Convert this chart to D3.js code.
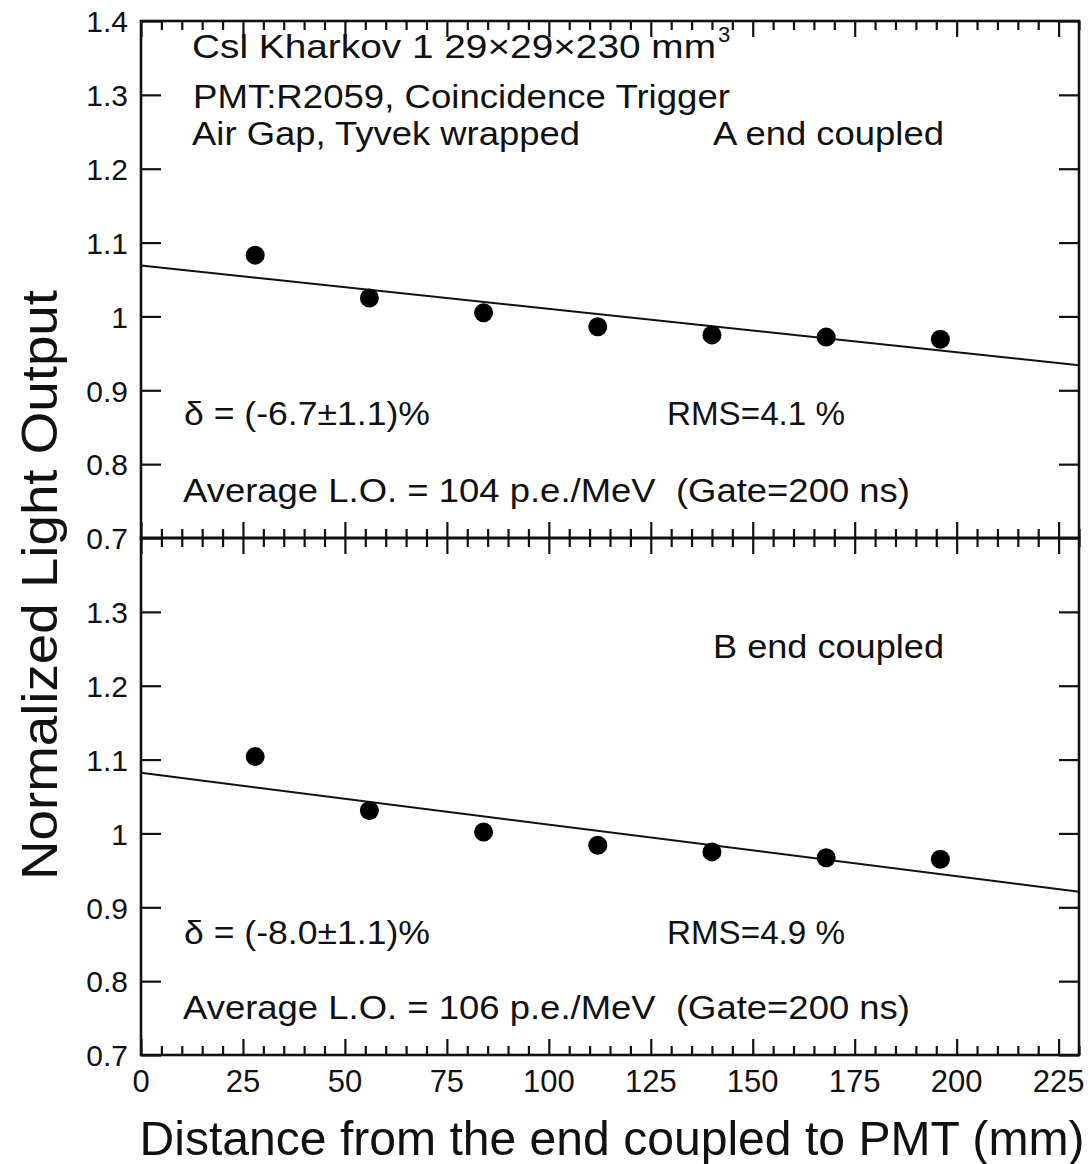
<!DOCTYPE html>
<html>
<head>
<meta charset="utf-8">
<script src="https://cdn.jsdelivr.net/npm/d3@7"></script>
<style>
  body { margin: 0; background: #fff; }
  text { font-family: 'Liberation Sans', Arial, sans-serif; fill: #111; white-space: pre; }
</style>
</head>
<body>
<div id="chart"></div>
<script>
const WIDTH = 1091;
const HEIGHT = 1164;

// distances along the crystal (mm)
const distances = [28, 56, 84, 112, 140, 168, 196];
// normalized light output, A end coupled (top) and B end coupled (bottom)
const outputA = [1.083, 1.025, 1.005, 0.986, 0.975, 0.972, 0.969];
const outputB = [1.104, 1.031, 1.002, 0.984, 0.975, 0.967, 0.965];
const errA = [0.012, 0.012, 0.012, 0.012, 0.012, 0.012, 0.012];
const errB = [0.012, 0.012, 0.012, 0.012, 0.012, 0.012, 0.012];
// linear fits, value at x = 0 and x = 230
const fitA = [[0, 1.069], [230, 0.934]];
const fitB = [[0, 1.082], [230, 0.921]];

const xTicks = [0, 25, 50, 75, 100, 125, 150, 175, 200, 225];
const yTicksTop = [0.7, 0.8, 0.9, 1.0, 1.1, 1.2, 1.3, 1.4];
const yTicksBottom = [0.7, 0.8, 0.9, 1.0, 1.1, 1.2, 1.3];

const xLabel = 'Distance from the end coupled to PMT (mm)';
const yLabel = 'Normalized Light Output';

const plot = { left: 141, right: 1079, top: 21, mid: 538, bottom: 1055 };

const svg = d3.select('#chart').append('svg')
  .attr('width', WIDTH)
  .attr('height', HEIGHT);

const x = d3.scaleLinear().domain([0, 230]).range([plot.left, plot.right]);
const yTop = d3.scaleLinear().domain([0.7, 1.4]).range([plot.mid, plot.top]);
const yBot = d3.scaleLinear().domain([0.7, 1.4]).range([plot.bottom, plot.mid]);

const fmt = d => (d === 1 ? '1' : d3.format('.1f')(d));
const minorX = d3.range(0, 231, 5).filter(v => v % 25 !== 0);

function drawPanel(y, yTicks, values, errs, fit) {
  const g = svg.append('g');

  // x ticks at bottom edge, pointing up (major + minor)
  g.append('g')
    .attr('transform', `translate(0,${y(0.7)})`)
    .call(d3.axisBottom(x).tickValues(xTicks).tickSize(-16).tickFormat(''))
    .call(a => a.select('.domain').remove());
  g.append('g')
    .attr('transform', `translate(0,${y(0.7)})`)
    .call(d3.axisBottom(x).tickValues(minorX).tickSize(-9).tickFormat(''))
    .call(a => a.select('.domain').remove());

  // x ticks at top edge, pointing down
  g.append('g')
    .attr('transform', `translate(0,${y(1.4)})`)
    .call(d3.axisTop(x).tickValues(xTicks).tickSize(-16).tickFormat(''))
    .call(a => a.select('.domain').remove());
  g.append('g')
    .attr('transform', `translate(0,${y(1.4)})`)
    .call(d3.axisTop(x).tickValues(minorX).tickSize(-9).tickFormat(''))
    .call(a => a.select('.domain').remove());

  // left y axis, ticks inward
  const left = g.append('g')
    .attr('transform', `translate(${plot.left},0)`)
    .call(d3.axisLeft(y).tickValues(yTicks).tickSize(-20).tickPadding(13).tickFormat(fmt))
    .call(a => a.select('.domain').remove());
  left.selectAll('text')
    .style('font-size', '30px')
    .attr('dy', '0.36em');

  // right y axis, ticks inward
  g.append('g')
    .attr('transform', `translate(${plot.right},0)`)
    .call(d3.axisRight(y).tickValues(yTicks).tickSize(-20).tickFormat(''))
    .call(a => a.select('.domain').remove());

  g.selectAll('.tick line').attr('stroke', '#111').attr('stroke-width', 2.2);

  // frame
  g.append('rect')
    .attr('x', plot.left)
    .attr('y', y(1.4))
    .attr('width', plot.right - plot.left)
    .attr('height', y(0.7) - y(1.4))
    .attr('fill', 'none')
    .attr('stroke', '#111')
    .attr('stroke-width', 2.6);

  // fit line
  g.append('line')
    .attr('x1', x(fit[0][0])).attr('y1', y(fit[0][1]))
    .attr('x2', x(fit[1][0])).attr('y2', y(fit[1][1]))
    .attr('stroke', '#111')
    .attr('stroke-width', 2);

  const pts = distances.map((d, i) => ({ d, v: values[i], e: errs[i] }));

  g.selectAll('line.err')
    .data(pts).enter()
    .append('line')
    .attr('class', 'err')
    .attr('x1', p => x(p.d)).attr('x2', p => x(p.d))
    .attr('y1', p => y(p.v + p.e)).attr('y2', p => y(p.v - p.e))
    .attr('stroke', '#000')
    .attr('stroke-width', 3);

  g.selectAll('circle')
    .data(pts).enter()
    .append('circle')
    .attr('cx', p => x(p.d))
    .attr('cy', p => y(p.v))
    .attr('r', 9.5)
    .attr('fill', '#000');

  return g;
}

drawPanel(yTop, yTicksTop, outputA, errA, fitA);
drawPanel(yBot, yTicksBottom, outputB, errB, fitB);

// x tick labels at the bottom
svg.append('g')
  .selectAll('text')
  .data(xTicks).enter()
  .append('text')
  .attr('x', d => x(d))
  .attr('y', 1092)
  .attr('text-anchor', 'middle')
  .style('font-size', '31px')
  .text(d => d);

// annotations
const note = (txt, xp, yp, len) => {
  const t = svg.append('text')
    .attr('x', xp)
    .attr('y', yp)
    .style('font-size', '33px')
    .text(txt);
  if (len) t.attr('textLength', len).attr('lengthAdjust', 'spacingAndGlyphs');
  return t;
};

note('Csl Kharkov 1 29×29×230 mm', 192, 58, 524);
svg.append('text')
  .attr('x', 718).attr('y', 42)
  .style('font-size', '22px')
  .text('3');
note('PMT:R2059, Coincidence Trigger', 193, 108, 537);
note('Air Gap, Tyvek wrapped', 192, 145, 388);
note('A end coupled', 713, 145, 231);
note('δ = (-6.7±1.1)%', 184, 425, 246);
note('RMS=4.1 %', 667, 425, 178);
note('Average L.O. = 104 p.e./MeV  (Gate=200 ns)', 183, 502, 727);

note('B end coupled', 713, 658, 231);
note('δ = (-8.0±1.1)%', 184, 944, 246);
note('RMS=4.9 %', 667, 944, 178);
note('Average L.O. = 106 p.e./MeV  (Gate=200 ns)', 183, 1019, 727);

// axis titles
svg.append('text')
  .attr('x', 612)
  .attr('y', 1155)
  .attr('text-anchor', 'middle')
  .attr('textLength', 945)
  .attr('lengthAdjust', 'spacingAndGlyphs')
  .style('font-size', '48px')
  .text(xLabel);

svg.append('text')
  .attr('transform', 'translate(57,585) rotate(-90)')
  .attr('text-anchor', 'middle')
  .attr('textLength', 590)
  .attr('lengthAdjust', 'spacingAndGlyphs')
  .style('font-size', '50px')
  .text(yLabel);
</script>
</body>
</html>
